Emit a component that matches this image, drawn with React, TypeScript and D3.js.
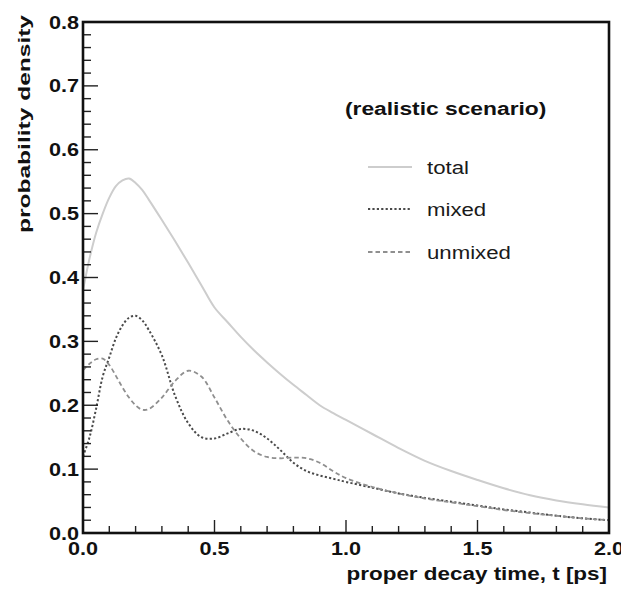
import React from "react";
import * as d3 from "d3";

const T = [0, 0.025, 0.05, 0.075, 0.1, 0.125, 0.15, 0.175, 0.2, 0.225, 0.25, 0.3, 0.35, 0.4, 0.45, 0.5, 0.55, 0.6, 0.65, 0.7, 0.75, 0.8, 0.85, 0.9, 0.95, 1.0, 1.1, 1.2, 1.3, 1.4, 1.5, 1.6, 1.7, 1.8, 1.9, 2.0];
const TOTAL = [0.38, 0.43, 0.47, 0.5, 0.525, 0.543, 0.552, 0.555, 0.548, 0.537, 0.522, 0.49, 0.457, 0.423, 0.388, 0.353, 0.33, 0.307, 0.286, 0.267, 0.249, 0.232, 0.216, 0.2, 0.188, 0.177, 0.155, 0.133, 0.113, 0.097, 0.083, 0.07, 0.059, 0.051, 0.045, 0.04];
const MIXED = [0.12, 0.15, 0.195, 0.245, 0.275, 0.305, 0.325, 0.337, 0.34, 0.333, 0.318, 0.278, 0.215, 0.172, 0.15, 0.148, 0.156, 0.163, 0.16, 0.148, 0.13, 0.11, 0.097, 0.09, 0.085, 0.08, 0.071, 0.062, 0.055, 0.049, 0.043, 0.037, 0.032, 0.027, 0.023, 0.02];
const UNMIXED = [0.255, 0.265, 0.272, 0.273, 0.263, 0.246, 0.228, 0.212, 0.2, 0.193, 0.194, 0.212, 0.238, 0.254, 0.245, 0.212, 0.176, 0.148, 0.128, 0.119, 0.117, 0.118, 0.117, 0.11, 0.097, 0.086, 0.072, 0.062, 0.054, 0.048, 0.042, 0.036, 0.031, 0.027, 0.023, 0.02];

const SERIES_NAMES = ["total", "mixed", "unmixed"];
const LEGEND_TITLE = "(realistic scenario)";
const X_TITLE = "proper decay time, t [ps]";
const Y_TITLE = "probability density";

const W = 621;
const H = 589;
const M = { left: 83, right: 609, top: 22, bottom: 533 };
const FONT = "'Liberation Sans', Arial, Helvetica, sans-serif";
const SX = 1.2;

const STYLES = [
  { stroke: "#cdcdcd", width: 2, dash: "none" },
  { stroke: "#4a4a4a", width: 2, dash: "2.2,2.2" },
  { stroke: "#8f8f8f", width: 1.8, dash: "4.5,3" },
];

export default function App() {
  const x = d3.scaleLinear().domain([0, 2]).range([M.left, M.right]);
  const y = d3.scaleLinear().domain([0, 0.8]).range([M.bottom, M.top]);
  const series = [TOTAL, MIXED, UNMIXED];
  const line = d3
    .line<number>()
    .x((_, i) => x(T[i]))
    .y((d) => y(d))
    .curve(d3.curveCatmullRom.alpha(0.5));

  const xMinor = x.ticks(20);
  const xMajor = x.ticks(4);
  const yMinor = y.ticks(40);
  const yMajor = y.ticks(8);
  const fmt = d3.format(".1f");
  const isMajor = (v: number, arr: number[]) => arr.some((m) => Math.abs(m - v) < 1e-9);

  const legX0 = 368;
  const legX1 = 412;
  const legYs = [167, 209, 252];

  return (
    <svg width={W} height={H} style={{ position: "absolute", left: 0, top: 0, background: "#fff" }} fontFamily={FONT}>
      <rect x={0} y={0} width={W} height={H} fill="#fff" />
      {series.map((s, i) => (
        <path
          key={i}
          d={line(s) || ""}
          fill="none"
          stroke={STYLES[i].stroke}
          strokeWidth={STYLES[i].width}
          strokeDasharray={STYLES[i].dash}
        />
      ))}
      {/* ticks */}
      {xMinor.map((v) => {
        const maj = isMajor(v, xMajor);
        if (v <= 0 || v >= 2) return null;
        return (
          <line key={"xt" + v} x1={x(v)} x2={x(v)} y1={M.bottom} y2={M.bottom - (maj ? 13 : 7)} stroke="#222" strokeWidth={1.4} />
        );
      })}
      {yMinor.map((v) => {
        const maj = isMajor(v, yMajor);
        if (v <= 0 || v >= 0.8) return null;
        return (
          <line key={"yt" + v} x1={M.left} x2={M.left + (maj ? 15 : 8)} y1={y(v)} y2={y(v)} stroke="#222" strokeWidth={1.4} />
        );
      })}
      <rect x={M.left} y={M.top} width={M.right - M.left} height={M.bottom - M.top} fill="none" stroke="#111" strokeWidth={2.6} />
      {/* tick labels */}
      {xMajor.map((v) => (
        <text key={"xl" + v} transform={`translate(${x(v)},555) scale(${SX},1)`} textAnchor="middle" fontSize={18} fontWeight="bold" fill="#111">
          {fmt(v)}
        </text>
      ))}
      {yMajor.map((v) => (
        <text key={"yl" + v} transform={`translate(79,${y(v) + 6.5}) scale(${SX},1)`} textAnchor="end" fontSize={18} fontWeight="bold" fill="#111">
          {fmt(v)}
        </text>
      ))}
      {/* axis titles */}
      <text transform={`translate(607,580) scale(${SX},1)`} textAnchor="end" fontSize={18.7} fontWeight="bold" fill="#111">
        {X_TITLE}
      </text>
      <text transform={`translate(30,233) rotate(-90)`} textAnchor="start" fontSize={16.5} fontWeight="bold" fill="#111" textLength={218} lengthAdjust="spacingAndGlyphs">
        {Y_TITLE}
      </text>
      {/* legend */}
      <text transform={`translate(345,115) scale(${SX},1)`} fontSize={19} fontWeight="bold" fill="#111">
        {LEGEND_TITLE}
      </text>
      {SERIES_NAMES.map((n, i) => (
        <g key={n}>
          <line x1={legX0} x2={legX1} y1={legYs[i]} y2={legYs[i]} stroke={STYLES[i].stroke} strokeWidth={STYLES[i].width} strokeDasharray={STYLES[i].dash} />
          <text transform={`translate(427,${legYs[i] + 7}) scale(${SX},1)`} fontSize={18.5} fill="#1a1a1a">
            {n}
          </text>
        </g>
      ))}
    </svg>
  );
}
